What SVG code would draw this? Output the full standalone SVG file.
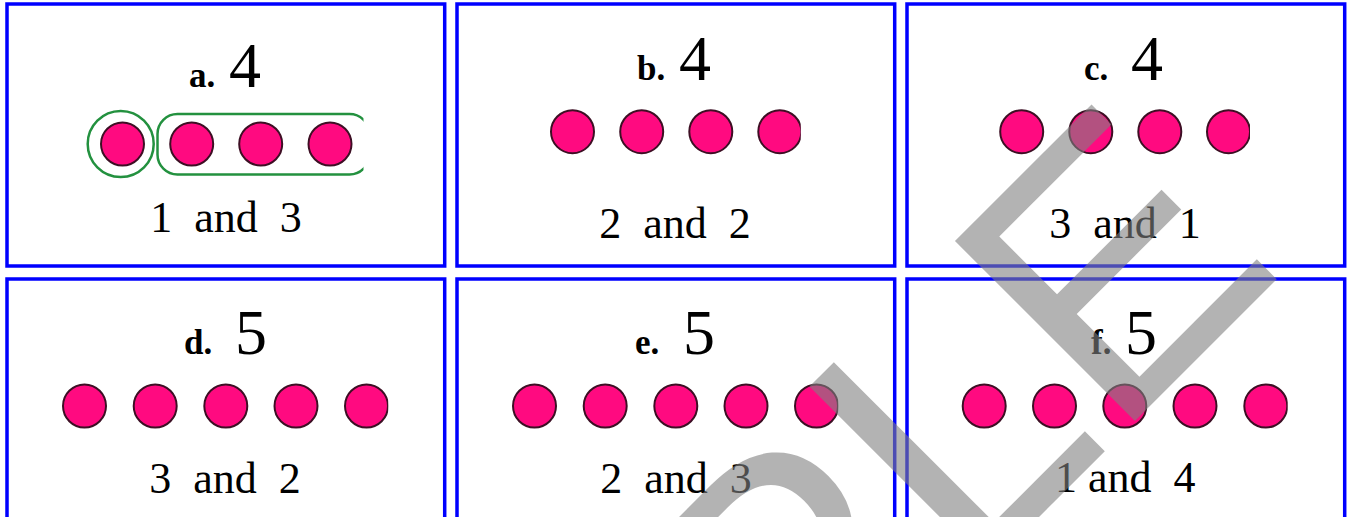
<svg xmlns="http://www.w3.org/2000/svg" width="1349" height="517" viewBox="0 0 1349 517">
<style>
.card{fill:#ffffff;stroke:#0000ff;stroke-width:3.5}
.dot{fill:#ff0a80;stroke:#3d0f24;stroke-width:2}
.ring{fill:none;stroke:#23913f;stroke-width:2.5}
.lbl{font-family:"Liberation Serif","Times New Roman",serif;font-weight:bold;font-size:35px;fill:#000}
.num{font-family:"Liberation Serif","Times New Roman",serif;font-size:64px;fill:#000}
.cap{font-family:"Liberation Serif","Times New Roman",serif;font-size:44px;fill:#000;white-space:pre}
.wm{font-family:"Liberation Sans",Arial,sans-serif;font-size:370px;fill:#808080;fill-opacity:0.6}
</style>
<defs>
<clipPath id="clipA"><rect x="0" y="100" width="363.5" height="90"/></clipPath>
<clipPath id="clipB"><rect x="450" y="100" width="350.7" height="70"/></clipPath>
<clipPath id="clipC"><rect x="900" y="100" width="350" height="70"/></clipPath>
<clipPath id="clipD"><rect x="0" y="370" width="388.3" height="70"/></clipPath>
<clipPath id="clipE"><rect x="450" y="370" width="388.3" height="70"/></clipPath>
<clipPath id="clipF"><rect x="900" y="370" width="387.7" height="70"/></clipPath>
</defs>
<rect width="1349" height="517" fill="#ffffff"/>
<g id="card-a">
<rect class="card" x="7" y="4" width="437.7" height="262"/>
<text class="lbl" x="189" y="87">a.</text>
<text class="num" x="229" y="87">4</text>
<g clip-path="url(#clipA)">
<circle class="ring" cx="120.7" cy="144" r="33"/>
<rect class="ring" x="157.5" y="114" width="212" height="60.5" rx="20"/>
<circle class="dot" cx="122.5" cy="144" r="21.5"/>
<circle class="dot" cx="191.7" cy="144" r="21.5"/>
<circle class="dot" cx="260.7" cy="144" r="21.5"/>
<circle class="dot" cx="330" cy="144" r="21.5"/>
</g>
<text class="cap" x="226" y="232" text-anchor="middle" xml:space="preserve">1  and  3</text>
</g>
<g id="card-b">
<rect class="card" x="457" y="4" width="437.7" height="262"/>
<text class="lbl" x="637" y="80">b.</text>
<text class="num" x="679" y="80">4</text>
<g clip-path="url(#clipB)">
<circle class="dot" cx="572.5" cy="131.7" r="21.5"/>
<circle class="dot" cx="641.7" cy="131.7" r="21.5"/>
<circle class="dot" cx="710.8" cy="131.7" r="21.5"/>
<circle class="dot" cx="779.8" cy="131.7" r="21.5"/>
</g>
<text class="cap" x="675" y="238" text-anchor="middle" xml:space="preserve">2  and  2</text>
</g>
<g id="card-c">
<rect class="card" x="907" y="4" width="437.7" height="262"/>
<text class="lbl" x="1084" y="80">c.</text>
<text class="num" x="1131" y="80">4</text>
<g clip-path="url(#clipC)">
<circle class="dot" cx="1021.7" cy="131.7" r="21.5"/>
<circle class="dot" cx="1090.8" cy="131.7" r="21.5"/>
<circle class="dot" cx="1159.8" cy="131.7" r="21.5"/>
<circle class="dot" cx="1228.5" cy="131.7" r="21.5"/>
</g>
<text class="cap" x="1125" y="238" text-anchor="middle" xml:space="preserve">3  and  1</text>
</g>
<g id="card-d">
<rect class="card" x="7" y="279" width="437.7" height="262"/>
<text class="lbl" x="184" y="354">d.</text>
<text class="num" x="235" y="354">5</text>
<g clip-path="url(#clipD)">
<circle class="dot" cx="84.5" cy="406" r="21.5"/>
<circle class="dot" cx="155.2" cy="406" r="21.5"/>
<circle class="dot" cx="225.8" cy="406" r="21.5"/>
<circle class="dot" cx="296" cy="406" r="21.5"/>
<circle class="dot" cx="366.5" cy="406" r="21.5"/>
</g>
<text class="cap" x="225" y="493" text-anchor="middle" xml:space="preserve">3  and  2</text>
</g>
<g id="card-e">
<rect class="card" x="457" y="279" width="437.7" height="262"/>
<text class="lbl" x="635" y="354">e.</text>
<text class="num" x="683" y="354">5</text>
<g clip-path="url(#clipE)">
<circle class="dot" cx="534.5" cy="406" r="21.5"/>
<circle class="dot" cx="605.2" cy="406" r="21.5"/>
<circle class="dot" cx="675.8" cy="406" r="21.5"/>
<circle class="dot" cx="746" cy="406" r="21.5"/>
<circle class="dot" cx="816.5" cy="406" r="21.5"/>
</g>
<text class="cap" x="676" y="493" text-anchor="middle" xml:space="preserve">2  and  3</text>
</g>
<g id="card-f">
<rect class="card" x="907" y="279" width="437.7" height="262"/>
<text class="lbl" x="1091" y="354">f.</text>
<text class="num" x="1125" y="354">5</text>
<g clip-path="url(#clipF)">
<circle class="dot" cx="984.2" cy="406" r="21.5"/>
<circle class="dot" cx="1054.5" cy="406" r="21.5"/>
<circle class="dot" cx="1124.8" cy="406" r="21.5"/>
<circle class="dot" cx="1195" cy="406" r="21.5"/>
<circle class="dot" cx="1265.8" cy="406" r="21.5"/>
</g>
<text class="cap" x="1055" y="492" xml:space="preserve">1 and  4</text>
</g>
<g id="connectors"/>
<g id="watermark">
<text class="wm" x="1288" y="268" text-anchor="end" transform="rotate(-45 1288 268)">SAMPLE</text>
</g>
</svg>
